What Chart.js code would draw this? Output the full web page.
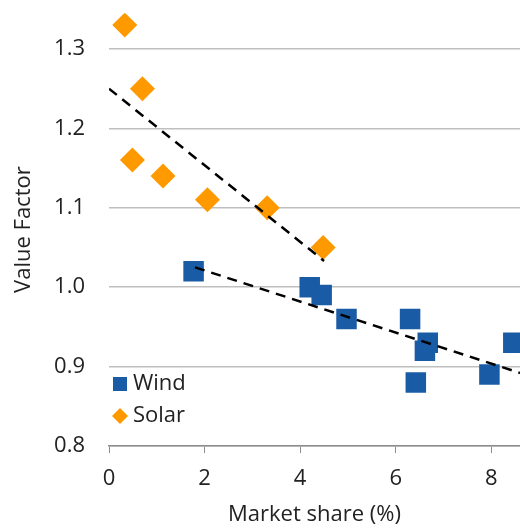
<!DOCTYPE html>
<html>
<head>
<meta charset="utf-8">
<script src="https://cdn.jsdelivr.net/npm/chart.js@4.4.0/dist/chart.umd.min.js"></script>
<style>
  html, body { margin: 0; padding: 0; background: #fff; }
  #wrap { width: 520px; height: 528px; }
</style>
</head>
<body>
<div id="wrap"><canvas id="vfChart" width="520" height="528"></canvas></div>
<script>
// market share (%) and value factor
const windShare = [1.77, 4.2, 4.45, 4.97, 6.3, 6.67, 6.61, 6.42, 7.96, 8.46];
const windValue = [1.02, 1.0, 0.99, 0.96, 0.96, 0.93, 0.92, 0.88, 0.89, 0.93];
const solarShare = [0.33, 0.7, 0.49, 1.13, 2.06, 3.31, 4.48];
const solarValue = [1.33, 1.25, 1.16, 1.14, 1.11, 1.10, 1.05];

// linear trend end points
const windTrendX = [1.8, 8.6];
const windTrendY = [1.025, 0.892];
const solarTrendX = [0, 4.5];
const solarTrendY = [1.25, 1.033];

const xTicks = [0, 2, 4, 6, 8];
const yTicks = [0.8, 0.9, 1.0, 1.1, 1.2, 1.3];

const windColor = '#1a5ba6';
const solarColor = '#ff9900';
const fontFamily = '"Open Sans", "Noto Sans", sans-serif';
const fontSize = 22;

function pairs(xs, ys) {
  return xs.map((x, i) => ({ x: x, y: ys[i] }));
}

// legend drawn inside the plot, bottom left
const insideLegend = {
  id: 'insideLegend',
  afterDraw(chart) {
    const ctx = chart.ctx;
    const a = chart.chartArea;
    const x0 = a.left + 4;
    const y1 = a.bottom - 62;
    const y2 = a.bottom - 30;
    ctx.save();
    ctx.fillStyle = windColor;
    ctx.fillRect(x0, y1 - 7, 14, 14);
    ctx.fillStyle = solarColor;
    ctx.beginPath();
    ctx.moveTo(x0 + 7, y2 - 8);
    ctx.lineTo(x0 + 15, y2);
    ctx.lineTo(x0 + 7, y2 + 8);
    ctx.lineTo(x0 - 1, y2);
    ctx.closePath();
    ctx.fill();
    ctx.fillStyle = '#222';
    ctx.font = fontSize + 'px ' + fontFamily;
    ctx.textBaseline = 'middle';
    ctx.fillText('Wind', x0 + 20, y1);
    ctx.fillText('Solar', x0 + 20, y2);
    ctx.restore();
  }
};

document.addEventListener('DOMContentLoaded', function() {
  const ctx = document.getElementById('vfChart').getContext('2d');
  new Chart(ctx, {
    type: 'scatter',
    data: {
      datasets: [
        {
          label: 'Wind trend',
          type: 'line',
          data: pairs(windTrendX, windTrendY),
          borderColor: '#000',
          borderWidth: 2.5,
          borderDash: [10, 7],
          pointRadius: 0,
          fill: false,
          order: 0
        },
        {
          label: 'Solar trend',
          type: 'line',
          data: pairs(solarTrendX, solarTrendY),
          borderColor: '#000',
          borderWidth: 2.5,
          borderDash: [10, 7],
          pointRadius: 0,
          fill: false,
          order: 0
        },
        {
          label: 'Wind',
          data: pairs(windShare, windValue),
          pointStyle: 'rect',
          pointRadius: 14.5,
          pointHoverRadius: 14.5,
          backgroundColor: windColor,
          borderColor: windColor,
          borderWidth: 0,
          order: 1
        },
        {
          label: 'Solar',
          data: pairs(solarShare, solarValue),
          pointStyle: 'rectRot',
          pointRadius: 12.5,
          pointHoverRadius: 12.5,
          backgroundColor: solarColor,
          borderColor: solarColor,
          borderWidth: 0,
          order: 1
        }
      ]
    },
    options: {
      responsive: false,
      animation: false,
      layout: { padding: 0, autoPadding: false },
      plugins: {
        legend: { display: false },
        tooltip: { enabled: false }
      },
      scales: {
        x: {
          type: 'linear',
          min: 0,
          max: 8.6,
          afterBuildTicks: function(s) { s.ticks = xTicks.map(v => ({ value: v })); },
          afterFit: function(s) { s.height = 82; },
          grid: { drawOnChartArea: false, drawTicks: true, tickLength: 7, color: '#8c8c8c' },
          border: { color: '#8c8c8c', width: 1.5 },
          ticks: { padding: 13, color: '#222', font: { family: fontFamily, size: fontSize } },
          title: {
            display: true,
            text: 'Market share (%)',
            color: '#222',
            padding: 0,
            font: { family: fontFamily, size: fontSize }
          }
        },
        y: {
          min: 0.8,
          max: 1.345,
          afterBuildTicks: function(s) { s.ticks = yTicks.map(v => ({ value: v })); },
          afterFit: function(s) { s.width = 109; },
          grid: { color: '#bfbfbf', lineWidth: 1.5, drawTicks: true, tickLength: 24, tickColor: 'rgba(0,0,0,0)' },
          border: { display: false },
          ticks: {
            padding: 0,
            color: '#222',
            font: { family: fontFamily, size: fontSize },
            callback: v => v.toFixed(1)
          },
          title: {
            display: true,
            text: 'Value Factor',
            color: '#222',
            padding: { top: 11, bottom: 0 },
            font: { family: fontFamily, size: fontSize }
          }
        }
      }
    },
    plugins: [insideLegend]
  });
});
</script>
</body>
</html>
